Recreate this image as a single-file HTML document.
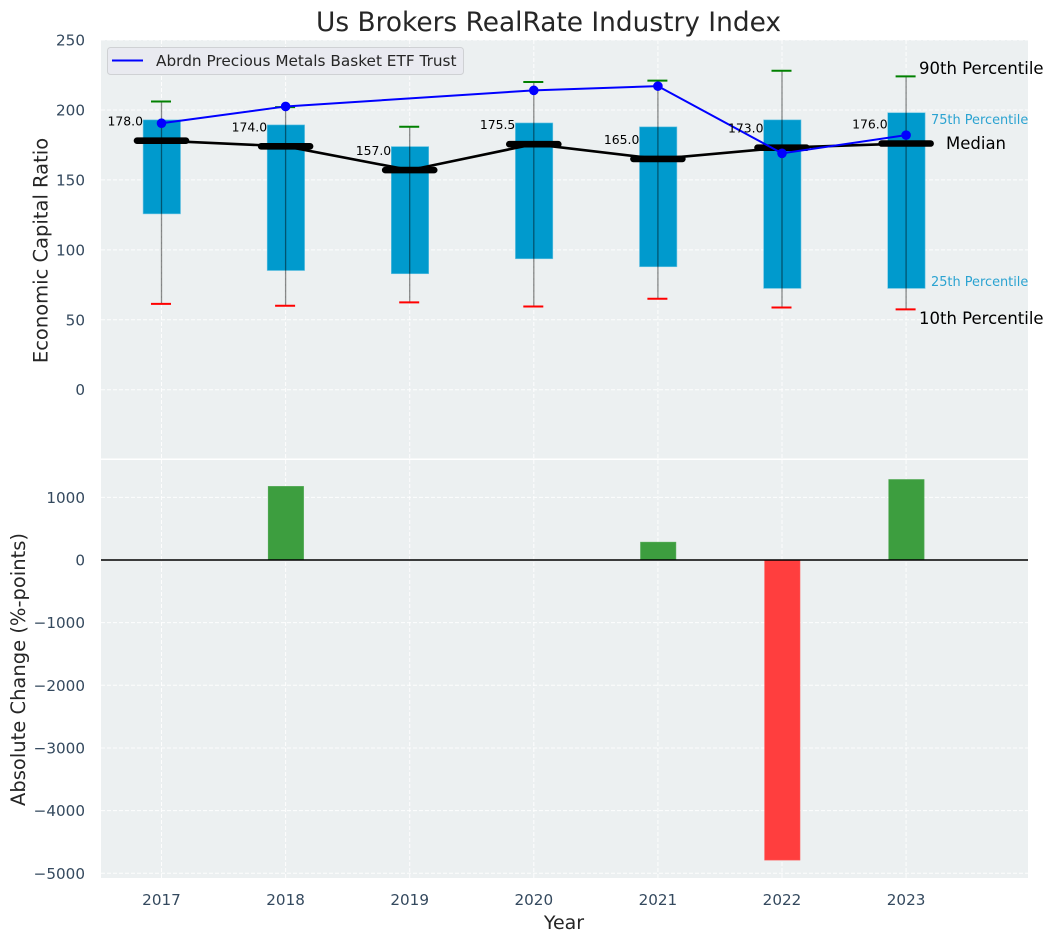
<!DOCTYPE html>
<html>
<head>
<meta charset="utf-8">
<title>Us Brokers RealRate Industry Index</title>
<style>
html,body{margin:0;padding:0;background:#fff;}
svg{display:block;font-family:"DejaVu Sans","Liberation Sans",sans-serif;}
</style>
</head>
<body>
<svg id="chart" xmlns="http://www.w3.org/2000/svg" width="1054" height="942" viewBox="0 0 1054 942">
  <rect x="101" y="40" width="927" height="418.5" fill="#ecf0f1"/>
  <rect x="101" y="460" width="927" height="418" fill="#ecf0f1"/>
  <g id="grid"></g>
  <g id="bars"></g>
  <g id="boxes"></g>
  <g id="lines"></g>
  <g id="labels"></g>
  <text x="548.5" y="31" font-size="26.4" text-anchor="middle" fill="#262626">Us Brokers RealRate Industry Index</text>
  <text transform="translate(47.5,250.5) rotate(-90)" font-size="19.5" text-anchor="middle" fill="#262626">Economic Capital Ratio</text>
  <text transform="translate(25,669.5) rotate(-90)" font-size="19.5" text-anchor="middle" fill="#262626">Absolute Change (%-points)</text>
  <text x="564" y="929" font-size="19" text-anchor="middle" fill="#262626">Year</text>
  <g>
    <rect x="107.5" y="47.5" width="356" height="27" rx="3" fill="#e9eaf0" stroke="#cfd1d4" stroke-width="1"/>
    <line x1="112" y1="60.5" x2="143" y2="60.5" stroke="#0000ff" stroke-width="2"/>
    <text x="156" y="66" font-size="15.3" fill="#262626">Abrdn Precious Metals Basket ETF Trust</text>
  </g>
  <g>
    <text x="919" y="74" font-size="16.5" fill="#000">90th Percentile</text>
    <text x="931" y="124" font-size="12.9" fill="#2ba3d1">75th Percentile</text>
    <text x="946" y="149" font-size="16.5" fill="#000">Median</text>
    <text x="931" y="286" font-size="12.9" fill="#2ba3d1">25th Percentile</text>
    <text x="919" y="324" font-size="16.5" fill="#000">10th Percentile</text>
  </g>
</svg>
<script>
const years = [2017, 2018, 2019, 2020, 2021, 2022, 2023];
const p90 = [206, 202, 188, 220, 221, 228, 224];
const p75 = [192.9, 189.3, 173.8, 190.7, 187.9, 192.9, 198];
const medians = [178, 174, 157, 175.5, 165, 173, 176];
const p25 = [125.7, 85.2, 82.9, 93.6, 87.9, 72.4, 72.4];
const p10 = [61.4, 60, 62.4, 59.5, 65, 58.8, 57.4];
const etf = [190.5, 202.5, null, 214, 217, 169, 182];
const changes = [0, 1175, 0, 0, 285, -4790, 1285];
const topTicks = [0, 50, 100, 150, 200, 250];
const bottomTicks = [-5000, -4000, -3000, -2000, -1000, 0, 1000];

const NS = 'http://www.w3.org/2000/svg';
const xS = v => 161.5 + (v - 2017) * 124.1;
const yTop = v => 389.7 - v * 1.3988;
const yBot = v => 560 - v * 0.06265;

function mk(parent, tag, attrs, text) {
  const e = document.createElementNS(NS, tag);
  for (const k in attrs) e.setAttribute(k, attrs[k]);
  if (text !== undefined) e.textContent = text;
  parent.appendChild(e);
  return e;
}
const gGrid = document.getElementById('grid');
const gBars = document.getElementById('bars');
const gBoxes = document.getElementById('boxes');
const gLines = document.getElementById('lines');
const gLabels = document.getElementById('labels');
const dash = {stroke: '#ffffff', 'stroke-width': 1, 'stroke-dasharray': '4 2', opacity: 0.9};

years.forEach(yr => {
  const x = xS(yr);
  const a = mk(gGrid, 'line', Object.assign({x1: x, x2: x, y1: 40, y2: 458}, dash));
  
  
  const b = mk(gGrid, 'line', Object.assign({x1: x, x2: x, y1: 460, y2: 878}, dash));
  
  
  const t = mk(gLabels, 'text', {x: x, y: 905, 'font-size': 15.2, 'text-anchor': 'middle', fill: '#34495e'}, String(yr));
  
  
});
topTicks.forEach(v => {
  const y = yTop(v);
  const l = mk(gGrid, 'line', Object.assign({x1: 101, x2: 1028, y1: y, y2: y}, dash));
  
  
  const t = mk(gLabels, 'text', {x: 85, y: y + 5.5, 'font-size': 15.2, 'text-anchor': 'end', fill: '#34495e'}, String(v));
  
  
});
bottomTicks.forEach(v => {
  const y = yBot(v);
  const l = mk(gGrid, 'line', Object.assign({x1: 101, x2: 1028, y1: y, y2: y}, dash));
  
  
  const t = mk(gLabels, 'text', {x: 85, y: y + 5.5, 'font-size': 15.2, 'text-anchor': 'end', fill: '#34495e'}, String(v).replace('-', '\u2212'));
  
  
});

changes.forEach((v, i) => {
  if (v === 0) return;
  const x = xS(years[i]) + 0.3;
  const y0 = yBot(0), y1 = yBot(v);
  const r = mk(gBars, 'rect', {x: x - 17.7, width: 35.4, y: Math.min(y0, y1), height: Math.abs(y1 - y0), fill: v > 0 ? '#3d9e3f' : '#ff3e3e', stroke: v > 0 ? '#56ab58' : '#ff5c5c', 'stroke-width': 0.6});
  
  
});
const zero = mk(gBars, 'line', {x1: 101, x2: 1028, y1: yBot(0), y2: yBot(0), stroke: '#000', 'stroke-width': 1.6});



years.forEach((yr, i) => {
  const x = xS(yr);
  const box = mk(gBoxes, 'rect', {x: x - 18.5 + 0.1, width: 37.4, y: yTop(p75[i]), height: yTop(p25[i]) - yTop(p75[i]), fill: '#009acd', stroke: '#6cc4e3', 'stroke-width': 0.6});
  
  
  const w = mk(gBoxes, 'line', {x1: x, x2: x, y1: yTop(p90[i]), y2: yTop(p10[i]), stroke: '#000', 'stroke-opacity': 0.45, 'stroke-width': 1.3});
  
  
  const c1 = mk(gBoxes, 'line', {x1: x - 10.5, x2: x + 9.5, y1: yTop(p90[i]), y2: yTop(p90[i]), stroke: '#008000', 'stroke-width': 2});
  
  
  const c2 = mk(gBoxes, 'line', {x1: x - 10.5, x2: x + 9.5, y1: yTop(p10[i]), y2: yTop(p10[i]), stroke: '#ff0000', 'stroke-width': 2});
  
  
  const lab = mk(gLabels, 'text', {x: x - 18.5, y: yTop(medians[i]) - 15, 'font-size': 12.4, 'text-anchor': 'end', fill: '#000'}, medians[i].toFixed(1));
  
  
});

const medLine = mk(gLines, 'polyline', {points: years.map((yr, i) => xS(yr) + ',' + yTop(medians[i])).join(' '), fill: 'none', stroke: '#000', 'stroke-width': 2.6});


years.forEach((yr, i) => {
  const x = xS(yr), y = yTop(medians[i]);
  const m = mk(gLines, 'line', {x1: x - 24.5, x2: x + 24.5, y1: y, y2: y, stroke: '#000', 'stroke-width': 6.6, 'stroke-linecap': 'round'});
  
  
});
const etfPts = years.map((yr, i) => etf[i] === null ? null : [xS(yr), yTop(etf[i]), yr]).filter(Boolean);
const etfLine = mk(gLines, 'polyline', {points: etfPts.map(p => p[0] + ',' + p[1]).join(' '), fill: 'none', stroke: '#0000ff', 'stroke-width': 2});


etfPts.forEach(p => {
  const c = mk(gLines, 'circle', {cx: p[0], cy: p[1], r: 4.8, fill: '#0000ff'});
  
  
});
</script>
</body>
</html>
